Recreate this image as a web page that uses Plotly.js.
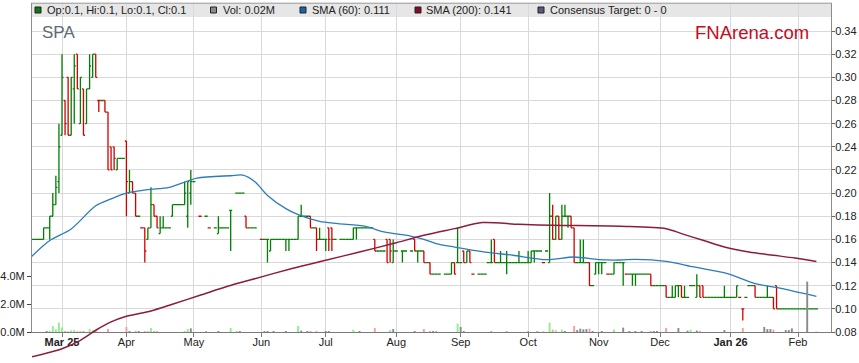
<!DOCTYPE html>
<html><head><meta charset="utf-8">
<script src="https://cdn.plot.ly/plotly-3.0.1.min.js"></script>
<style>html,body{margin:0;padding:0;background:#fff}#chart{width:859px;height:363px}</style>
</head><body><div id="chart"></div>
<script>
// ---- data (trading-day bars starting Mon 17 Feb 2025) ----
const startDate = [2025, 1, 17];
const openP = [
.16,.16,.16,.16,.16,.17,.17,.18,.19,.21,
.25,.28,.30,.25,.29,.32,.26,.29,.26,.29,
.30,.32,.28,.28,.28,.27,.24,.24,.22,.23,
.23,.245,.20,.21,.20,.18,.17,.17,.16,.17,
.19,.18,.165,.17,.17,.17,.18,.19,.19,.19,
.19,.18,.20,.21,null,.18,null,.18,.17,null,
.17,.165,.17,.17,.17,.185,null,.20,.20,.20,
.18,.17,.17,.17,null,.16,.16,.16,.15,.16,
.16,.16,.16,.16,.16,.16,.16,.16,.18,.18,
.18,.18,.17,.17,.16,.16,.16,.17,.17,.16,
null,.16,.16,.16,.16,.16,.17,.17,.17,.17,
.17,.17,.16,.15,.15,.15,.16,.16,.14,.15,
null,.15,.15,null,.15,.16,.15,.15,.15,.14,
.14,.13,.13,.13,null,.13,.13,.13,.14,.14,
.14,.15,.14,.15,.13,null,.13,.13,.13,.14,
.14,.16,.14,.14,.14,.14,.14,.14,.14,.14,
.14,.14,.14,.14,.15,.15,.15,.14,.15,.14,
.18,.16,.18,.16,.18,.18,.18,.17,.14,.14,
.14,.14,.14,.12,.13,.14,.14,.14,.13,.13,
.13,.14,.14,.14,.13,.13,.13,.13,.13,.13,
.13,.13,.13,.12,.12,.12,.12,.12,.11,.11,
.11,.12,.12,.11,.11,.12,.12,.11,.12,.12,
.11,.11,.11,.11,.11,.11,.11,.11,.11,.11,
.11,.11,.10,.11,.12,.12,.12,.11,.11,.11,
.11,.11,.11,.12,.10,.10,.10,.10,.10,.10,
.10,.10,.10,.10,.10,.10,.10];
const highP = [
.16,.16,.16,.16,.17,.17,.18,.20,.215,.26,
.32,.28,.30,.30,.32,.32,.30,.29,.29,.32,
.32,.32,.28,.28,.28,.27,.24,.24,.23,.23,
.23,.245,.22,.21,.20,.18,.17,.17,.17,.205,
.19,.18,.18,.18,.17,.17,.19,.19,.19,.19,
.21,.21,.22,.21,null,.18,null,.18,.17,null,
.17,.18,.17,.17,.17,.185,null,.20,.20,.20,
.18,.17,.17,.17,null,.16,.16,.16,.16,.16,
.16,.16,.16,.16,.16,.16,.16,.18,.19,.18,
.18,.18,.17,.17,.17,.16,.16,.17,.17,.16,
null,.16,.16,.16,.16,.17,.17,.17,.17,.17,
.17,.17,.16,.15,.15,.15,.16,.16,.16,.15,
null,.15,.15,null,.15,.16,.15,.15,.15,.14,
.14,.13,.13,.13,null,.13,.13,.14,.14,.17,
.14,.15,.15,.15,.13,null,.13,.13,.13,.14,
.16,.16,.14,.15,.14,.15,.14,.14,.14,.15,
.14,.14,.15,.15,.15,.15,.15,.14,.15,.20,
.19,.18,.18,.19,.19,.18,.18,.17,.14,.16,
.16,.14,.14,.12,.14,.14,.14,.14,.13,.13,
.14,.14,.14,.14,.13,.13,.13,.13,.13,.13,
.13,.13,.13,.12,.12,.12,.12,.12,.11,.12,
.12,.12,.12,.12,.11,.12,.12,.13,.12,.12,
.11,.11,.11,.11,.11,.11,.12,.11,.11,.11,
.12,.11,.10,.11,.12,.12,.12,.11,.11,.11,
.12,.11,.11,.12,.10,.10,.10,.10,.10,.10,
.10,.10,.10,.10,.10,.10,.10];
const lowP = [
.16,.16,.16,.16,.16,.17,.16,.18,.19,.20,
.25,.25,.25,.25,.26,.29,.26,.25,.26,.29,
.30,.30,.27,.28,.27,.22,.22,.22,.22,.23,
.23,.18,.20,.20,.18,.18,.17,.14,.16,.17,
.18,.17,.165,.17,.17,.17,.18,.19,.19,.19,
.19,.17,.19,.21,null,.18,null,.18,.17,null,
.17,.165,.17,.17,.17,.15,null,.20,.20,.20,
.17,.17,.17,.17,null,.16,.16,.14,.15,.16,
.16,.16,.16,.15,.15,.16,.16,.16,.18,.18,
.18,.17,.17,.15,.16,.16,.15,.15,.15,.16,
null,.16,.16,.16,.16,.16,.16,.17,.17,.17,
.17,.17,.15,.15,.15,.15,.14,.14,.14,.15,
null,.14,.15,null,.15,.15,.14,.15,.14,.14,
.13,.13,.13,.13,null,.13,.13,.13,.13,.14,
.14,.14,.14,.14,.13,null,.13,.13,.13,.14,
.14,.14,.14,.14,.14,.13,.14,.14,.14,.14,
.14,.14,.14,.14,.14,.15,.15,.14,.15,.14,
.16,.16,.16,.16,.18,.17,.17,.14,.14,.14,
.14,.14,.12,.12,.13,.13,.13,.14,.13,.13,
.13,.14,.14,.12,.13,.13,.12,.12,.13,.13,
.13,.13,.12,.12,.12,.12,.12,.11,.11,.11,
.11,.11,.11,.11,.11,.12,.12,.11,.11,.11,
.11,.11,.11,.11,.11,.11,.11,.11,.11,.11,
.11,.11,.09,.11,.12,.12,.11,.11,.11,.11,
.11,.11,.10,.10,.10,.10,.10,.10,.10,.10,
.10,.10,.10,.10,.10,.10,.10];
const closeP = [
.16,.16,.16,.16,.17,.17,.18,.19,.205,.24,
.30,.26,.25,.30,.31,.29,.30,.25,.29,.31,
.32,.30,.28,.28,.27,.22,.22,.23,.23,.23,
.23,.21,.21,.20,.18,.18,.17,.15,.17,.19,
.18,.17,.17,.17,.17,.17,.19,.19,.19,.19,
.20,.21,.21,.21,null,.18,null,.18,.17,null,
.17,.17,.17,.17,.17,.185,null,.20,.20,.20,
.17,.17,.17,.17,null,.16,.16,.16,.16,.16,
.16,.16,.16,.16,.16,.16,.16,.18,.18,.18,
.18,.17,.17,.16,.16,.16,.16,.16,.16,.16,
null,.16,.16,.16,.16,.17,.17,.17,.17,.17,
.17,.17,.15,.15,.15,.15,.14,.15,.15,.15,
null,.15,.15,null,.15,.15,.15,.15,.14,.14,
.13,.13,.13,.13,null,.13,.13,.14,.13,.14,
.14,.14,.15,.14,.13,null,.13,.13,.13,.14,
.14,.14,.14,.14,.14,.14,.14,.14,.14,.14,
.14,.14,.14,.15,.15,.15,.15,.14,.15,.18,
.16,.18,.16,.18,.18,.18,.17,.14,.14,.14,
.14,.14,.12,.12,.14,.14,.14,.14,.13,.13,
.14,.14,.14,.14,.13,.13,.13,.13,.13,.13,
.13,.13,.12,.12,.12,.12,.12,.11,.11,.11,
.12,.12,.11,.11,.11,.12,.12,.12,.11,.11,
.11,.11,.11,.11,.11,.11,.11,.11,.11,.11,
.12,.11,.10,.11,.12,.12,.11,.11,.11,.11,
.11,.11,.10,.10,.10,.10,.10,.10,.10,.10,
.10,.10,.10,.10,.10,.10,.10];
// volume in millions of shares
const volumeM = [
0,0,0,0,0,.07,.07,.43,.2,.67,
.33,.07,.05,.12,.14,.05,.07,.07,0,.21,
.14,.14,0,0,0,.21,0,0,0,0,
0,.36,.07,0,.07,.07,0,.07,.07,.29,
.07,.07,0,0,0,0,0,0,0,0,
.07,.21,.26,0,0,0,0,.05,0,0,
0,.07,0,0,0,.29,0,.07,.07,0,
0,0,0,0,0,0,.07,.07,0,.07,
0,0,0,.07,0,0,0,.43,.1,0,
.07,.07,0,.07,0,0,.07,.07,0,0,
0,0,0,0,0,.17,0,.07,0,0,
0,0,.29,0,0,0,0,.14,.21,0,
0,0,0,0,0,.07,0,0,.21,0,
.07,.07,.05,0,0,0,0,0,0,.6,
.36,.07,0,0,0,0,0,0,0,0,
.05,0,0,0,0,.05,0,0,0,0,
0,0,.05,0,0,.05,0,.05,0,.67,
.17,.14,0,.17,.07,0,0,.43,.14,.24,
.19,.21,.24,.07,0,0,.07,0,0,0,
.17,0,0,.31,0,.07,0,.07,0,.07,
0,0,.07,.07,.07,0,0,.29,0,0,
0,.29,0,0,.1,.17,0,.1,.07,0,
0,0,0,0,0,0,.14,0,0,0,
0,0,.29,0,0,0,0,0,0,.36,
.21,.21,.17,0,0,0,.14,.14,.26,0,
0,0,0,3.6,0,0,.02];
// moving averages (trading-day index, value)
const sma60Day = [0,6,13,21,26,31,38,45,54,65,69,73,77,83,87,94,100,109,115,124,128,132,138,148,157,168,177,185,192,197,207,216,227,236,245,251,256];
const sma60Val = [.145,.159,.169,.189,.195,.200,.203,.205,.213,.215,.2155,.2096,.198,.1866,.1814,.1756,.1737,.1713,.1664,.1627,.160,.1564,.1534,.1491,.1463,.1425,.1448,.1425,.1422,.1428,.141,.1362,.1305,.1218,.1175,.1137,.1108];
const sma200Day = [0,10,16,21,26,31,39,46,55,64,71,85,96,107,118,128,138,147,159,170,192,207,212,219,226,234,242,249,256];
const sma200Val = [.0585,.0656,.0728,.0815,.0887,.0936,.0982,.104,.1117,.1195,.1247,.1348,.142,.1491,.1564,.1635,.1693,.1745,.173,.1722,.1713,.1693,.165,.1592,.1534,.1491,.1463,.1439,.141];
const monthLabels = ['<b>Mar 25</b>','Apr','May','Jun','Jul','Aug','Sep','Oct','Nov','Dec','<b>Jan 26</b>','Feb'];
const priceTicks = [0.08,0.10,0.12,0.14,0.16,0.18,0.20,0.22,0.24,0.26,0.28,0.30,0.32,0.34];
const volTicks = [0,2,4];
const volTickText = ['0.0M','2.0M','4.0M'];
const ticker = 'SPA';
const consensus = 'Consensus Target: 0 - 0';

// ---- build ----
const N = closeP.length;
const dates = [];
let d = new Date(Date.UTC(startDate[0], startDate[1], startDate[2]));
while (dates.length < N) {
  const wd = d.getUTCDay();
  if (wd !== 0 && wd !== 6) dates.push(new Date(d.getTime()));
  d.setUTCDate(d.getUTCDate() + 1);
}
const xs = dates.map((_, i) => i);
const tickIdx = [];
let lastM = dates[0].getUTCMonth();
for (let i = 1; i < N; i++) { const m = dates[i].getUTCMonth(); if (m !== lastM) { tickIdx.push(i); lastM = m; } }

const GREEN = '#007f00', RED = '#d40000';
const up = {o:[],h:[],l:[],c:[]}, dn = {o:[],h:[],l:[],c:[]};
const volColors = [];
let prevC = null;
for (let i = 0; i < N; i++) {
  const o = openP[i], h = highP[i], l = lowP[i], c = closeP[i];
  if (c === null) {
    [up, dn].forEach(t => { t.o.push(null); t.h.push(null); t.l.push(null); t.c.push(null); });
    volColors.push('#8a8a8a');
    continue;
  }
  const isUp = c > o ? true : (c < o ? false : (prevC === null || c >= prevC));
  const a = isUp ? up : dn, b = isUp ? dn : up;
  a.o.push(o); a.h.push(h); a.l.push(l); a.c.push(c);
  b.o.push(null); b.h.push(null); b.l.push(null); b.c.push(null);
  if (prevC === null || c === prevC) volColors.push('#8a8a8a');
  else volColors.push(c > prevC ? '#8df08d' : '#ff9b9b');
  prevC = c;
}

// geometry
const W = 859, H = 363, ML = 32, MR = 28, MT = 3, MB = 3;
const plotW = W - ML - MR, plotH = H - MT - MB;
const axisBottomPx = 332;
const pxPerPrice = 23.15 / 0.02;
const pxPerVol = 14;
const pxPerDay = 3.0667;
const mainH = axisBottomPx - MT;
const dBot = (H - MB - axisBottomPx) / plotH;
const yTop = 0.08 + mainH / pxPerPrice;
const y3Bot = yTop - plotH / pxPerPrice;
const x0 = (ML - 31.33) / pxPerDay;
const x1 = x0 + plotW / pxPerDay;
const PX = x => (x - ML) / plotW;
const PY = y => (H - MB - y) / plotH;

const FONT = 'Liberation Sans, Arial, sans-serif';
const ohlcTrace = (t, col) => ({
  type: 'ohlc', x: xs, open: t.o, high: t.h, low: t.l, close: t.c,
  xaxis: 'x', yaxis: 'y', tickwidth: 0.5, hoverinfo: 'skip', showlegend: false,
  increasing: {line: {color: col, width: 1.3}}, decreasing: {line: {color: col, width: 1.3}}
});

const traces = [
  {type: 'bar', x: xs, y: volumeM, xaxis: 'x', yaxis: 'y2', width: 0.62,
   marker: {color: volColors, line: {width: 0}}, hoverinfo: 'skip', showlegend: false},
  ohlcTrace(up, GREEN),
  ohlcTrace(dn, RED),
  {type: 'scatter', mode: 'lines', x: sma60Day, y: sma60Val, xaxis: 'x', yaxis: 'y',
   line: {color: '#2b7bbd', width: 1.3, shape: 'spline', smoothing: 0.8}, hoverinfo: 'skip', showlegend: false},
  {type: 'scatter', mode: 'lines', x: sma200Day, y: sma200Val, xaxis: 'x2', yaxis: 'y3',
   line: {color: '#8c1c3e', width: 1.5, shape: 'spline', smoothing: 0.8}, hoverinfo: 'skip', showlegend: false}
];

const lastI = N - 1;
const legendItems = [
  {sq: 35, tx: 46.5, col: '#0a7a0a', text: 'Op:' + openP[lastI] + ', Hi:' + highP[lastI] + ', Lo:' + lowP[lastI] + ', Cl:' + closeP[lastI]},
  {sq: 210.5, tx: 222.5, col: '#8a8a8a', text: 'Vol: ' + volumeM[lastI] + 'M'},
  {sq: 300, tx: 311.5, col: '#1666a8', text: 'SMA (60): ' + sma60Val[sma60Val.length - 1].toFixed(3)},
  {sq: 415, tx: 425.5, col: '#870a2c', text: 'SMA (200): ' + sma200Val[sma200Val.length - 1].toFixed(3)},
  {sq: 538, tx: 549.5, col: '#5a5a80', text: consensus}
];

const shapes = [
  {type: 'rect', xref: 'paper', yref: 'paper', x0: PX(31.5), x1: PX(831.5), y0: PY(17), y1: PY(3),
   fillcolor: '#e6e6e6', line: {width: 0}, layer: 'below'},
  {type: 'line', xref: 'paper', yref: 'paper', x0: PX(31), x1: PX(832), y0: PY(3.2), y1: PY(3.2),
   line: {color: '#9a9a9a', width: 1}}
];
const annotations = [];
legendItems.forEach(it => {
  shapes.push({type: 'rect', xref: 'paper', yref: 'paper', x0: PX(it.sq), x1: PX(it.sq + 6), y0: PY(13), y1: PY(7),
    fillcolor: it.col, line: {color: '#222', width: 1}});
  annotations.push({xref: 'paper', yref: 'paper', x: PX(it.tx), y: PY(10.2), xanchor: 'left', yanchor: 'middle',
    text: it.text, showarrow: false, borderpad: 0, borderwidth: 0, font: {family: FONT, size: 11, color: '#222'}});
});
annotations.push({xref: 'paper', yref: 'paper', x: PX(42), y: PY(32), xanchor: 'left', yanchor: 'middle',
  text: ticker, showarrow: false, borderpad: 0, borderwidth: 0, font: {family: FONT, size: 17, color: '#5d6a78'}});
annotations.push({xref: 'paper', yref: 'paper', x: PX(808.5), y: PY(32), xanchor: 'right', yanchor: 'middle',
  text: 'FNArena.com', showarrow: false, borderpad: 0, borderwidth: 0, font: {family: FONT, size: 18.5, color: '#c40c24'}});

const layout = {
  width: W, height: H,
  margin: {l: ML, r: MR, t: MT, b: MB, pad: 0},
  paper_bgcolor: '#ffffff', plot_bgcolor: 'rgba(0,0,0,0)',
  showlegend: false, hovermode: false,
  font: {family: FONT, size: 11, color: '#333'},
  xaxis: {range: [x0, x1], tickvals: tickIdx, ticktext: monthLabels, tickangle: 0,
    showgrid: true, gridcolor: '#d9d9d9', gridwidth: 1, showline: true, linecolor: '#7a7a7a', linewidth: 1.2,
    ticks: 'outside', ticklen: 4, tickcolor: '#7a7a7a', zeroline: false, anchor: 'y',
    ticklabelstandoff: -4,
    rangeslider: {visible: false}, tickfont: {family: FONT, size: 11, color: '#222'}},
  yaxis: {domain: [dBot, 1], range: [0.08, yTop], side: 'right', tickvals: priceTicks, tickformat: '.2f',
    showgrid: true, gridcolor: '#d9d9d9', gridwidth: 1, showline: true, linecolor: '#8c8c8c', linewidth: 1,
    ticks: 'outside', ticklen: 3, tickcolor: '#666', zeroline: false, anchor: 'x',
    ticklabelstandoff: -2,
    tickfont: {family: FONT, size: 11, color: '#222'}},
  yaxis2: {overlaying: 'y', side: 'left', range: [0, mainH / pxPerVol], tickvals: volTicks, ticktext: volTickText,
    showgrid: false, showline: true, linecolor: '#8c8c8c', linewidth: 1, ticks: 'outside', ticklen: 4,
    tickcolor: '#444', zeroline: false, anchor: 'x', tickfont: {family: FONT, size: 11, color: '#222'}},
  xaxis2: {domain: [0, 1], range: [x0, x1], visible: false, anchor: 'y3', fixedrange: true},
  yaxis3: {domain: [0, 1], range: [y3Bot, yTop], visible: false, anchor: 'x2', fixedrange: true},
  shapes: shapes, annotations: annotations
};

Plotly.newPlot('chart', traces, layout, {displayModeBar: false, staticPlot: true});
</script></body></html>
